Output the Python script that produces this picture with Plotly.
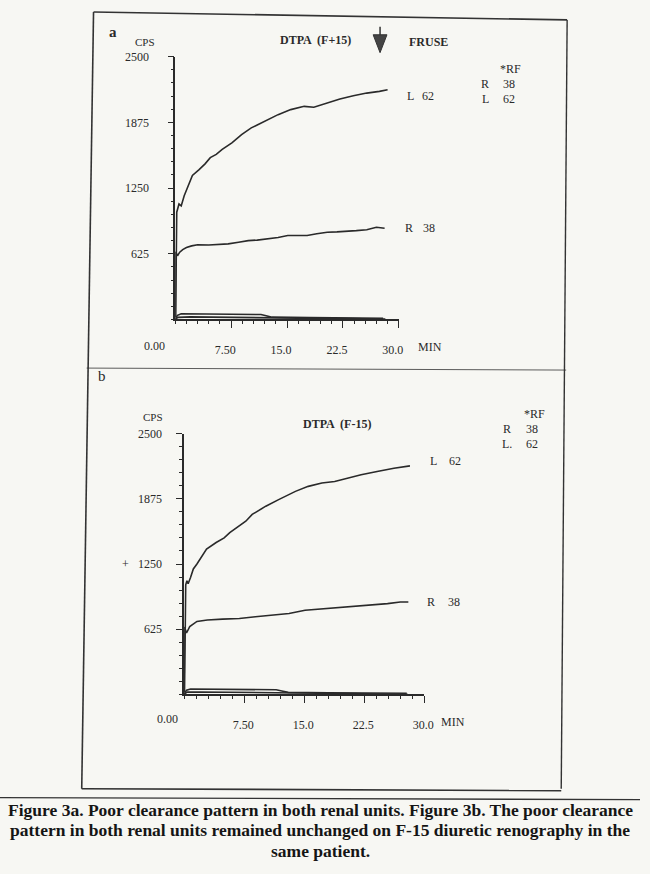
import plotly.graph_objects as go

W, H = 650, 874

# ---- panel a : DTPA (F+15), minutes vs counts per second ----
a_l_min = [0.05, 0.1, 0.2, 0.5, 0.8, 1.2, 1.8, 2.3, 3.2, 4.0, 4.7, 5.5, 6.3, 7.6,
           8.9, 10.2, 11.0, 12.0, 13.8, 15.5, 17.3, 18.6, 20.4, 22.1, 23.9, 25.7, 27.4, 28.5]
a_l_cps = [20, 560, 1020, 1098, 1080, 1176, 1290, 1370, 1425, 1480, 1539, 1570, 1617, 1680,
           1759, 1822, 1850, 1885, 1948, 1996, 2027, 2018, 2059, 2097, 2128, 2153, 2169, 2185]

a_r_min = [0.02, 0.06, 0.3, 0.6, 1.0, 1.5, 2.2, 3.0, 4.5, 5.8, 7.1, 8.5, 9.8, 11.0, 12.4,
           13.8, 15.1, 16.5, 17.7, 19.0, 20.4, 21.7, 23.0, 24.3, 25.7, 27.0, 28.1]
a_r_cps = [20, 644, 606, 640, 665, 685, 700, 710, 709, 712, 719, 735, 750, 755, 766,
           780, 798, 796, 798, 815, 829, 833, 836, 845, 854, 877, 867]

a_b1_min = [0.0, 0.3, 0.8, 4.0, 8.0, 11.5, 12.2, 13.0, 18.0, 23.0, 27.9]
a_b1_cps = [5, 40, 55, 52, 50, 47, 35, 22, 18, 15, 12]
a_b2_min = [0.0, 0.4, 2.0, 6.0, 10.0, 15.0, 20.0, 25.0, 28.2]
a_b2_cps = [3, 20, 25, 22, 18, 12, 8, 5, 3]

# ---- panel b : DTPA (F-15) ----
b_l_min = [0.05, 0.1, 0.2, 0.35, 0.5, 0.8, 1.15, 1.6, 2.0, 2.8, 4.0, 5.0, 5.7, 6.9, 7.7,
           8.5, 10.2, 11.8, 13.9, 15.5, 17.2, 18.8, 20.4, 22.1, 24.1, 26.2, 28.2]
b_l_cps = [20, 600, 1050, 1090, 1060, 1120, 1203, 1250, 1298, 1393, 1456, 1500, 1551, 1614, 1660,
           1725, 1804, 1867, 1946, 1994, 2026, 2041, 2073, 2105, 2136, 2168, 2190]

b_r_min = [0.0, 0.05, 0.3, 0.7, 1.6, 2.9, 4.8, 6.9, 8.9, 11.0, 13.1, 15.1, 18.0, 20.4,
           22.9, 25.4, 27.0, 28.0]
b_r_cps = [20, 646, 589, 650, 700, 713, 722, 728, 744, 760, 775, 807, 823, 839,
           855, 870, 886, 886]

b_b1_min = [0.0, 0.3, 0.8, 4.0, 8.0, 11.5, 12.2, 13.0, 18.0, 23.0, 27.8]
b_b1_cps = [5, 40, 52, 50, 48, 45, 33, 20, 17, 14, 11]
b_b2_min = [0.0, 0.4, 2.0, 6.0, 10.0, 15.0, 20.0, 25.0, 27.9]
b_b2_cps = [3, 22, 24, 20, 16, 11, 7, 4, 2]

x_ticks = [7.5, 15, 22.5, 30]
x_labels = ["7.50", "15.0", "22.5", "30.0"]
y_ticks = [625, 1250, 1875, 2500]
y_labels = ["625", "1250", "1875", "2500"]

INK = "#2a2a2a"
SERIF = "Liberation Serif"


def px(x):
    return x / W


def py(y):
    return 1 - y / H


fig = go.Figure()

for xs, ys, ax in [(a_l_min, a_l_cps, "a"), (a_r_min, a_r_cps, "a"),
                   (a_b1_min, a_b1_cps, "a"), (a_b2_min, a_b2_cps, "a"),
                   (b_l_min, b_l_cps, "b"), (b_r_min, b_r_cps, "b"),
                   (b_b1_min, b_b1_cps, "b"), (b_b2_min, b_b2_cps, "b")]:
    fig.add_trace(go.Scatter(
        x=xs, y=ys, mode="lines",
        xaxis="x" if ax == "a" else "x2",
        yaxis="y" if ax == "a" else "y2",
        line=dict(color=INK, width=1.6),
        showlegend=False, hoverinfo="skip", cliponaxis=False,
    ))


def xax(domain, anchor, shift):
    return dict(domain=domain, anchor=anchor, range=[0, 30], showgrid=False, zeroline=False,
                showline=True, linecolor=INK, linewidth=1.5,
                tickmode="array", tickvals=x_ticks, ticktext=x_labels,
                ticks="outside", ticklen=7, tickwidth=1.3, tickcolor=INK,
                minor=dict(tickmode="linear", tick0=0, dtick=1.5, ticks="outside",
                           ticklen=3, tickwidth=1, tickcolor=INK),
                ticklabelstandoff=11, ticklabelshift=shift,
                tickfont=dict(family=SERIF, size=12, color=INK))


def yax(domain, anchor, standoff):
    return dict(domain=domain, anchor=anchor, range=[0, 2500], showgrid=False, zeroline=False,
                showline=True, linecolor=INK, linewidth=1.5,
                tickmode="array", tickvals=y_ticks, ticktext=y_labels,
                ticks="outside", ticklen=6, tickwidth=1.3, tickcolor=INK,
                minor=dict(tickmode="linear", tick0=0, dtick=125, ticks="outside",
                           ticklen=3, tickwidth=1, tickcolor=INK),
                ticklabelstandoff=standoff,
                tickfont=dict(family=SERIF, size=12, color=INK))


fig.update_layout(
    width=W, height=H, autosize=False,
    margin=dict(l=0, r=0, t=0, b=0),
    paper_bgcolor="#f7f7f3", plot_bgcolor="rgba(0,0,0,0)",
    xaxis=xax([px(178), px(405)], "y", -6),
    yaxis=yax([py(315), py(50)], "x", 16),
    xaxis2=xax([px(187), px(431)], "y2", -1),
    yaxis2=yax([py(693), py(430)], "x2", 12),
)

texts = [
    # panel a
    ("<b>a</b>", 115, 25, 15), ("CPS", 147, 35, 11),
    ("<b>DTPA  (F+15)</b>", 320, 33, 12), ("<b>FRUSE</b>", 435, 35, 12),
    ("*RF", 518, 62, 12), ("R", 493, 78, 12), ("38", 517, 78, 12),
    ("L", 493, 93, 12), ("62", 517, 93, 12),
    ("L", 417, 90, 12), ("62", 435, 90, 12), ("R", 415, 223, 12), ("38", 436, 223, 12),
    ("0.00", 157, 342, 12), ("MIN", 437, 343, 12),
    # panel b
    ("b", 104, 372, 15), ("CPS", 155, 413, 11),
    ("<b>DTPA  (F-15)</b>", 342, 420, 12),
    ("*RF", 543, 410, 12), ("R", 515, 425, 12), ("38", 540, 425, 12),
    ("L.", 515, 441, 12), ("62", 540, 441, 12),
    ("L", 440, 458, 12), ("62", 462, 458, 12), ("R", 438, 600, 12), ("38", 461, 600, 12),
    ("+", 127, 561, 12),
    ("0.00", 170, 718, 12), ("MIN", 460, 721, 12),
]
for t, x, y, s in texts:
    fig.add_annotation(xref="paper", yref="paper", x=px(x), y=py(y), text=t,
                       showarrow=False, xanchor="center", yanchor="middle",
                       font=dict(family=SERIF, size=s, color=INK))

caption = [
    ("Figure 3a. Poor clearance pattern in both renal units. Figure 3b. The poor clearance", 809),
    ("pattern in both renal units remained unchanged on F-15 diuretic renography in the", 830),
    ("same patient.", 851),
]
for line, y in caption:
    fig.add_annotation(xref="paper", yref="paper", x=0.5, y=py(y), text=f"<b>{line}</b>",
                       showarrow=False, xanchor="center", yanchor="middle",
                       font=dict(family=SERIF, size=17.5, color="#151515"))

# frame lines of the scanned page
frame = [
    (95, 5, 576, 13, 1.6), (95, 5, 83, 788, 1.6), (576, 13, 570, 788, 1.4),
    (83, 788, 570, 790, 1.6), (88, 364, 575, 366, 0.8), (0, 797, 650, 799, 1.4),
]
for x0, y0, x1, y1, w in frame:
    fig.add_shape(type="line", xref="paper", yref="paper",
                  x0=px(x0), y0=py(y0), x1=px(x1), y1=py(y1), line=dict(color="#333", width=w))

# furosemide injection arrow
fig.add_shape(type="line", xref="paper", yref="paper", x0=px(386), y0=py(20), x1=px(386), y1=py(30),
              line=dict(color="#333", width=1.5))
fig.add_shape(type="path", xref="paper", yref="paper",
              path=f"M {px(379)},{py(28)} L {px(393)},{py(28)} L {px(386)},{py(46)} Z",
              fillcolor="#444", line=dict(color="#333", width=1))

fig.write_html("out.html", config={"displayModeBar": False},
               post_script="document.body.style.margin = '0';")
